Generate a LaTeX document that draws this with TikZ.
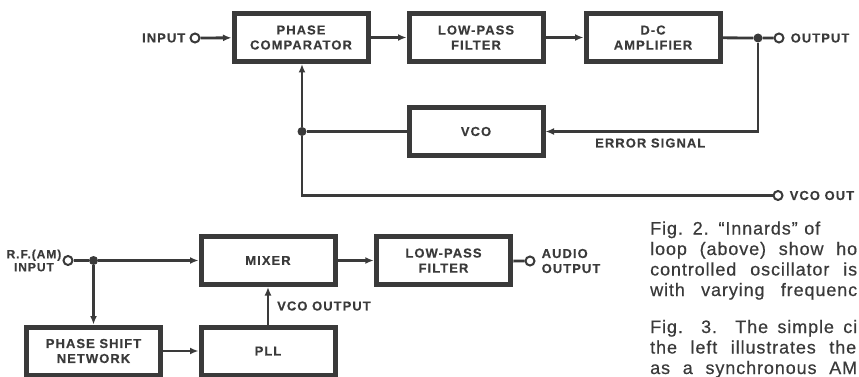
\documentclass[tikz,border=0pt]{standalone}
\usepackage{xcolor}
\usepackage{fontspec}
\setmainfont{Liberation Sans}
\newfontfamily\blockfont[LetterSpace=8,FakeBold=0.4]{Liberation Sans}
\newfontfamily\capfont[LetterSpace=5,FakeBold=0.5]{Liberation Sans}
\usepackage{tikz}
\usetikzlibrary{arrows.meta,positioning}
\definecolor{ink}{HTML}{3A3A3A}

\begin{document}
\begin{tikzpicture}[
  x=1pt, y=-1pt,
  every node/.style={text=ink},
  block/.style={draw=ink, line width=5pt, minimum width=134pt, minimum height=48pt,
                align=center, inner sep=0pt,
                font=\blockfont\bfseries\fontsize{13}{15}\selectfont},
  tag/.style={inner sep=0pt, font=\blockfont\bfseries\fontsize{13}{15}\selectfont},
  wire/.style={draw=ink, line width=2.8pt},
  feed/.style={wire, -{Latex[length=8.5pt,width=7pt]}},
  jack/.style={circle, draw=ink, line width=2pt, fill=white, minimum size=9pt, inner sep=0pt},
  junction/.style={circle, fill=ink, minimum size=9pt, inner sep=0pt},
  capline/.style={anchor=base west, inner sep=0pt, font=\capfont\fontsize{18}{20}\selectfont},
]
\useasboundingbox (0,0) rectangle (859,377);

%% Fig. 2: phase-locked loop
\node[jack] (injack) at (195,38) {};
\node[tag, left=4pt of injack] (inlabel) {INPUT};
\node[block] (pc)   at (301,37.5) {PHASE\\COMPARATOR};
\node[block] (lpft) at (476,37.5) {LOW-PASS\\FILTER};
\node[block] (dca)  at (653,37.5) {D-C\\AMPLIFIER};
\node[junction] (outdot) at (758,38) {};
\node[jack] (outjack) at (779,38) {};
\node[tag, right=6pt of outjack] (outlabel) {OUTPUT};

\node[block] (vco) at (476,131.5) {VCO};
\node[junction] (fbdot) at (302,131.5) {};
\node[tag, anchor=west] (errlabel) at (595,143) {ERROR SIGNAL};
\node[jack] (vcojack) at (778,195.5) {};
\node[tag, right=6pt of vcojack] (vcolabel) {VCO OUT};

\draw[feed] (injack) -- (pc);
\draw[feed] (pc) -- (lpft);
\draw[feed] (lpft) -- (dca);
\draw[wire] (dca) -- (outdot) -- (outjack);
\draw[feed] (outdot) |- (vco);
\draw[wire] (vco) -- (fbdot);
\draw[feed] (fbdot) -- (fbdot |- pc.south);
\draw[wire] (fbdot) |- (vcojack);

%% Fig. 3: synchronous AM detector
\node[jack] (rfjack) at (68,260.5) {};
\node[tag, align=center, left=1pt of rfjack, font=\blockfont\bfseries\fontsize{12}{13}\selectfont]
  (rflabel) {R.F.(AM)\\INPUT};
\node[junction] (rfdot) at (93.5,260.5) {};
\node[block] (mixer) at (268,260.5) {MIXER};
\node[block, line width=5.5pt] (lpfb) at (443.5,260.5) {LOW-PASS\\FILTER};
\node[jack] (audjack) at (530,261) {};
\node[tag, align=left, right=6pt of audjack] (audlabel) {AUDIO\\OUTPUT};
\node[block] (psn) at (93.5,351) {PHASE SHIFT\\NETWORK};
\node[block] (pll) at (268,351) {PLL};
\node[tag, anchor=west] (pllout) at (277,306) {VCO OUTPUT};

\draw[wire] (rfjack) -- (rfdot);
\draw[feed] (rfdot) -- (mixer);
\draw[feed] (rfdot) -- (psn);
\draw[feed] (psn) -- (pll);
\draw[feed] (pll) -- (mixer);
\draw[feed] (mixer) -- (lpfb);
\draw[wire] (lpfb) -- (audjack);

%% Captions (cut at the right edge)
\node[capline] (cap1) at (650,234.5) {\makebox[170pt][s]{Fig. 2. “Innards” of}};
\node[capline] (cap2) at (650,255) {\makebox[207pt][s]{loop (above) show ho}};
\node[capline] (cap3) at (650,275.5) {\makebox[207pt][s]{controlled oscillator is}};
\node[capline] (cap4) at (650,296) {\makebox[207pt][s]{with varying frequenc}};
\node[capline] (cap5) at (650,333) {\makebox[207pt][s]{Fig. 3. The simple ci}};
\node[capline] (cap6) at (650,353.5) {\makebox[206pt][s]{the left illustrates the}};
\node[capline] (cap7) at (650,374) {\makebox[207pt][s]{as a synchronous AM}};

\end{tikzpicture}
\end{document}
